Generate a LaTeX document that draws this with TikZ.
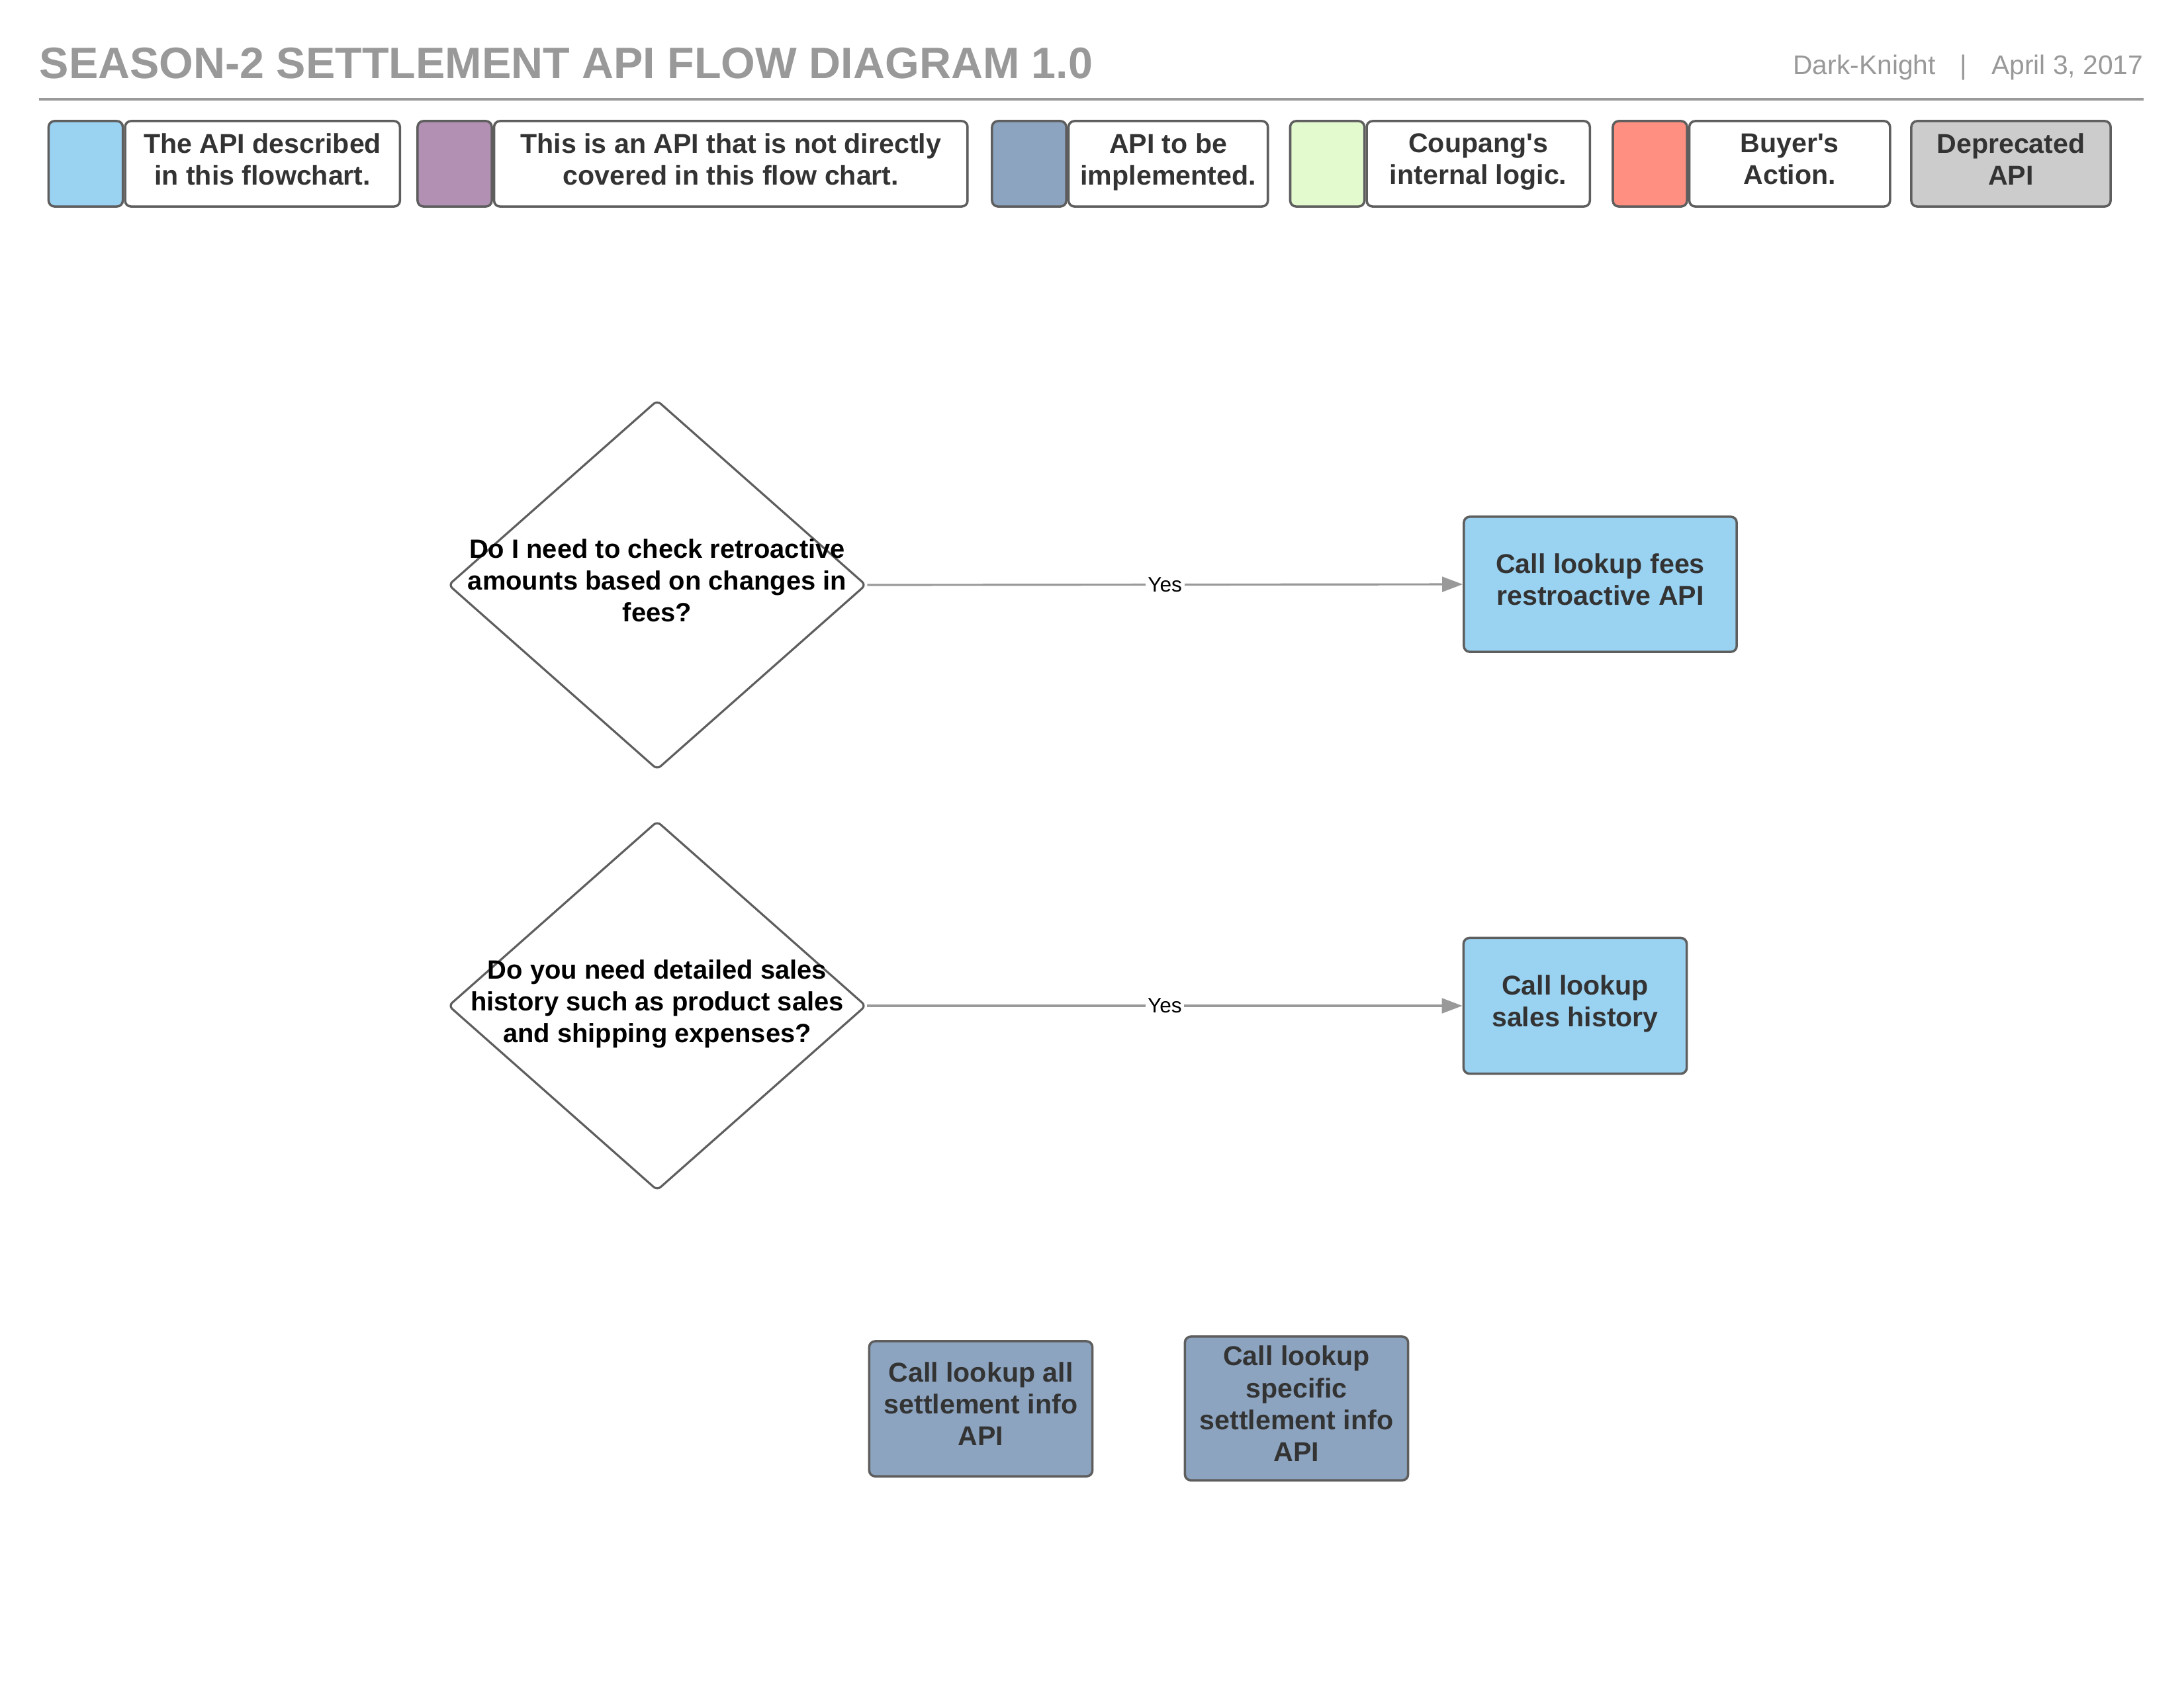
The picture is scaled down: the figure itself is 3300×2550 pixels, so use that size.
\documentclass[tikz,border=0pt]{standalone}
\usepackage{fontspec}
\setmainfont{Liberation Sans}
\usepackage{xcolor}
\usetikzlibrary{arrows.meta,positioning,shapes.geometric}

\definecolor{apiblue}{HTML}{9AD2F2}
\definecolor{otherpurple}{HTML}{B290B3}
\definecolor{todoblue}{HTML}{8CA4C0}
\definecolor{logicgreen}{HTML}{E3FACF}
\definecolor{buyerred}{HTML}{FF8F80}
\definecolor{deprgray}{HTML}{CCCCCC}
\definecolor{edgegray}{HTML}{5E5E5E}
\definecolor{textgray}{HTML}{333333}
\definecolor{titlegray}{HTML}{999999}
\definecolor{linegray}{HTML}{999999}

\newcommand{\titlefnt}{\fontsize{18.9}{23}\selectfont\bfseries}
\newcommand{\authorfnt}{\fontsize{11.6}{14}\selectfont}
\newcommand{\boxfnt}{\fontsize{11.7}{13.7}\selectfont\bfseries}
\newcommand{\askfnt}{\fontsize{11.35}{13.7}\selectfont\bfseries}
\newcommand{\yesfnt}{\fontsize{9}{11}\selectfont}

\begin{document}
\begin{tikzpicture}[
  x=0.01cm, y=-0.01cm,
  swatch/.style={draw=edgegray, line width=1pt, rounded corners=2.5pt, minimum width=1.12cm, minimum height=1.29cm, inner sep=0pt},
  legend/.style={swatch, fill=white, text=textgray, font=\boxfnt, align=center, execute at end node=\strut},
  apibox/.style={draw=edgegray, line width=1pt, rounded corners=2.5pt, text=textgray, font=\boxfnt, align=center, minimum height=2.04cm, inner sep=0pt, execute at end node=\strut},
  decision/.style={draw=edgegray, line width=0.9pt, diamond, rounded corners=2pt, minimum width=6.31cm, minimum height=5.58cm, inner sep=0pt},
  qtext/.style={font=\askfnt, align=center, inner sep=0pt, execute at end node=\strut},
  yes/.style={fill=white, inner sep=1pt, font=\yesfnt},
  arr/.style={-{Triangle[length=8.8pt,width=6.4pt]}, draw=linegray, line width=0.9pt}
]
\path[use as bounding box, fill=white] (0,0) rectangle (3300,2550);

\node[anchor=base west, inner sep=0pt, text=titlegray, font=\titlefnt] (title) at (59,118) {SEASON-2 SETTLEMENT API FLOW DIAGRAM 1.0};
\node[anchor=base east, inner sep=0pt, text=titlegray, font=\authorfnt] (author) at (3239,112) {Dark-Knight\hspace{10.5pt}|\hspace{10.5pt}April 3, 2017};
\draw[titlegray, line width=1pt] (59,150) -- (3239,150);

\node[swatch, fill=apiblue] (descsw) at (129.5,247.5) {};
\node[legend, right=0pt of descsw, minimum width=4.15cm] (desc) {The API described\\in this flowchart.};
\node[swatch, fill=otherpurple] (othersw) at (687,247.5) {};
\node[legend, right=0pt of othersw, minimum width=7.15cm] (other) {This is an API that is not directly\\covered in this flow chart.};
\node[swatch, fill=todoblue] (todosw) at (1555,247.5) {};
\node[legend, right=0pt of todosw, minimum width=3.01cm] (todo) {API to be\\implemented.};
\node[swatch, fill=logicgreen] (logicsw) at (2005.5,247.5) {};
\node[legend, right=0pt of logicsw, minimum width=3.37cm] (logic) {Coupang\textquotesingle s\\internal logic.};
\node[swatch, fill=buyerred] (buyersw) at (2493,247.5) {};
\node[legend, right=0pt of buyersw, minimum width=3.03cm] (buyer) {Buyer\textquotesingle s\\Action.};
\node[legend, fill=deprgray, minimum width=3.01cm] (depr) at (3038.5,247.5) {Deprecated\\API};

\node[decision] (feesq) at (993,884) {};
\node[qtext] (feesqtext) at (feesq) {Do I need to check retroactive\\amounts based on changes in\\fees?};
\node[decision] (salesq) at (993,1520) {};
\node[qtext] (salesqtext) at (salesq) {Do you need detailed sales\\history such as product sales\\and shipping expenses?};

\node[apibox, fill=apiblue, minimum width=4.12cm] (feesapi) at (2418,883) {Call lookup fees\\restroactive API};
\node[apibox, fill=apiblue, minimum width=3.37cm, minimum height=2.05cm] (salesapi) at (2380,1520) {Call lookup\\sales history};
\node[apibox, fill=todoblue, minimum width=3.37cm] (allapi) at (1482,2129) {Call lookup all\\settlement info\\API};
\node[apibox, fill=todoblue, minimum width=3.37cm, minimum height=2.17cm] (specapi) at (1959,2128.5) {Call lookup\\specific\\settlement info\\API};

\draw[arr] (feesq.east) -- node[yes] {Yes} (feesapi.west);
\draw[arr] (salesq.east) -- node[yes] {Yes} (salesapi.west);
\end{tikzpicture}
\end{document}
